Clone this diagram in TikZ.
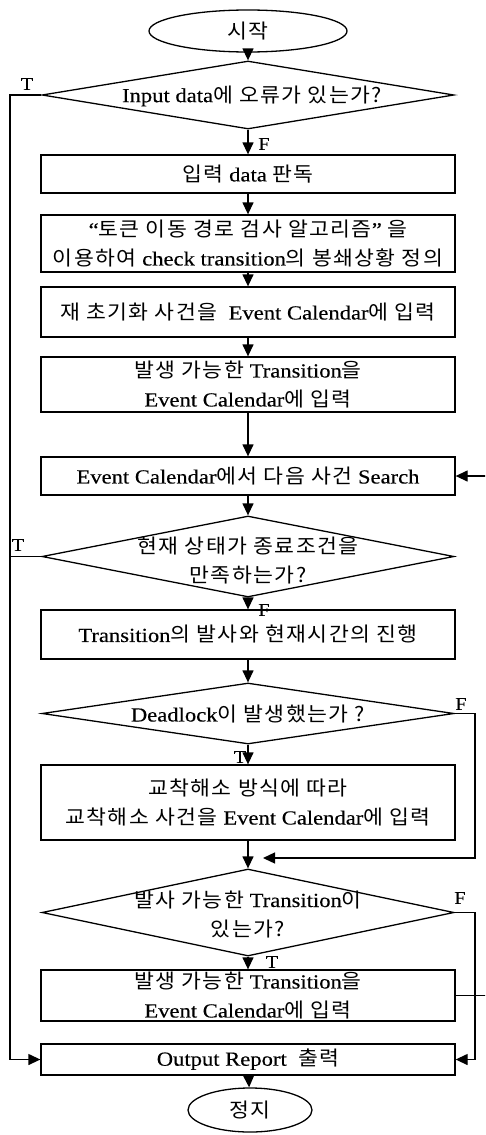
\documentclass[tikz,border=0pt]{standalone}
\usepackage{fontspec}
\setmainfont{Liberation Serif}[FakeStretch=1.13,FakeBold=0.3]
\newfontfamily\krf{Noto Sans CJK KR}[FakeStretch=1.08,LetterSpace=7]
\newcommand\kk[1]{{\krf #1}}
\usetikzlibrary{shapes.geometric,arrows.meta}
\begin{document}
\begin{tikzpicture}[x=1pt,y=-1pt,
 every node/.style={font=\fontsize{20}{29}\selectfont},
 box/.style={draw,line width=1.3pt,minimum width=414pt,inner sep=0pt,align=center},
 dia/.style={draw,diamond,line width=1.3pt,inner sep=0pt},
 term/.style={draw,ellipse,line width=1.3pt,inner sep=0pt},
 txt/.style={align=center,inner sep=0pt},
 arr/.style={-{Triangle[length=12pt,width=11pt]},line width=1.3pt},
 ln/.style={line width=1.3pt},
 lab/.style={inner sep=0pt,font=\fontsize{18}{18}\selectfont}]
\useasboundingbox (0,0) rectangle (485,1135);
\clip (0,0) rectangle (485,1135);

\node[term,minimum width=198pt,minimum height=42pt] (start) at (248,31) {\kk{시작}};
\node[dia,minimum width=412pt,minimum height=68pt] (d1) at (248,95) {};
\node[txt] (d1t) at (252,96) {Input data\kk{에 오류가 있는가?}};
\node[box,minimum height=38pt] (b1) at (248,174) {\kk{입력} data \kk{판독}};
\node[box,minimum height=57pt] (b2) at (248,243.5) {“\kk{토큰 이동 경로 검사 알고리즘}” \kk{을}\\\kk{이용하여} check transition\kk{의 봉쇄상황 정의}};
\node[box,minimum height=50pt] (b3) at (248,312) {\kk{재 초기화 사건을}\ \ Event Calendar\kk{에 입력}};
\node[box,minimum height=55pt] (b4) at (248,384.5) {\kk{발생 가능한} Transition\kk{을}\\Event Calendar\kk{에 입력}};
\node[box,minimum height=38pt] (b5) at (248,476) {Event Calendar\kk{에서 다음 사건} Search};
\node[dia,minimum width=412pt,minimum height=81pt] (d2) at (248,556.5) {};
\node[txt] (d2t) at (248,561) {\kk{현재 상태가 종료조건을}\\\kk{만족하는가?}};
\node[box,minimum height=49pt] (b6) at (248,634.5) {Transition\kk{의 발사와 현재시간의 진행}};
\node[dia,minimum width=412pt,minimum height=61pt] (d3) at (248,713.5) {};
\node[txt] (d3t) at (248,714) {Deadlock\kk{이 발생했는가 ?}};
\node[box,minimum height=75pt] (b7) at (248,802.5) {\kk{교착해소 방식에 따라}\\\kk{교착해소 사건을} Event Calendar\kk{에 입력}};
\node[dia,minimum width=412pt,minimum height=87pt] (d4) at (248,912.5) {};
\node[txt] (d4t) at (248,914) {\kk{발사 가능한} Transition\kk{이}\\\kk{있는가?}};
\node[box,minimum height=51pt] (b8) at (248,995.5) {\kk{발생 가능한} Transition\kk{을}\\Event Calendar\kk{에 입력}};
\node[box,minimum height=31pt] (out) at (248,1059.5) {Output Report\ \ \kk{출력}};
\node[term,minimum width=124pt,minimum height=44pt] (stop) at (250,1110) {\kk{정지}};

\coordinate (L1) at (10,95);
\coordinate (L2) at (10,1059.5);
\coordinate (L3) at (10,556.5);
\coordinate (R1) at (475,713.5);
\coordinate (R2) at (475,858);
\coordinate (M) at (263,858);
\coordinate (R3) at (475,912.5);
\coordinate (R4) at (475,1059.5);
\coordinate (E1) at (490,995.5);
\coordinate (E2) at (490,476);

\draw[arr] (start) -- (d1);
\draw[arr] (d1) -- (b1);
\draw[arr] (b1) -- (b2);
\draw[arr] (b2) -- (b3);
\draw[arr] (b3) -- (b4);
\draw[arr] (b4) -- (b5);
\draw[arr] (b5) -- (d2);
\draw[arr] (d2) -- (b6);
\draw[arr] (b6) -- (d3);
\draw[arr] (d3) -- (b7);
\draw[arr] (b7) -- (d4);
\draw[arr] (d4) -- (b8);
\draw[arr] (out) -- (stop);

\draw[arr] (d1.west) -- (L1) -- (L2) -- (out.west);
\draw[ln] (d2.west) -- (L3);
\draw[arr] (d3.east) -- (R1) -- (R2) -- (M);
\draw[arr] (d4.east) -- (R3) -- (R4) -- (out.east);
\draw[arr] (b8.east) -- (E1) -- (E2) -- (b5.east);

\node[lab] (tT1) at (27,84) {T};
\node[lab] (tF1) at (264,144) {F};
\node[lab] (tT2) at (18,545) {T};
\node[lab] (tF2) at (264,610) {F};
\node[lab] (tF3) at (461,704) {F};
\node[lab] (tT3) at (240,757) {T};
\node[lab] (tF4) at (460,898) {F};
\node[lab] (tT4) at (272,962) {T};
\end{tikzpicture}
\end{document}
